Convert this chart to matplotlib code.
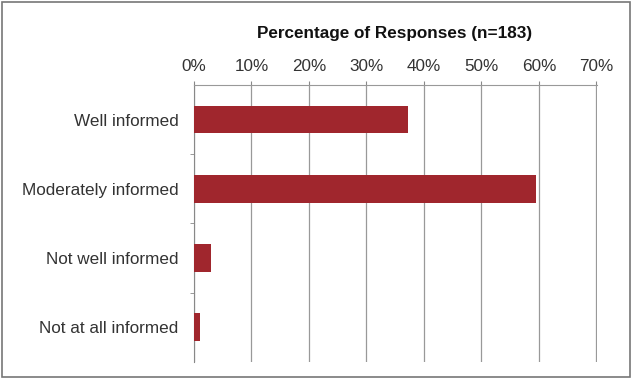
import matplotlib.pyplot as plt
from matplotlib.patches import Rectangle

# data
categories = ["Well informed", "Moderately informed", "Not well informed", "Not at all informed"]
percentages = [37.2, 59.5, 3.0, 1.0]
tick_values = [0, 10, 20, 30, 40, 50, 60, 70]

plt.rcParams['font.family'] = ['Liberation Sans', 'DejaVu Sans']

fig = plt.figure(figsize=(6.33, 3.81), dpi=100)
ax = fig.add_axes([0.3065, 0.05, 0.6365, 0.727])

y = list(range(len(categories)))
ax.barh(y, percentages, height=0.4, color="#a0262d", zorder=3)

ax.set_xlim(0, 70.1)
ax.set_ylim(len(categories) - 0.5, -0.5)
ax.set_yticks(y)
ax.set_yticklabels(categories, fontsize=12.3, color="#333333")
ax.set_yticks([0.5, 1.5, 2.5], minor=True)
ax.tick_params(axis="y", which="major", length=0, pad=11)
ax.tick_params(axis="y", which="minor", length=3, color="#888888")

ax.xaxis.tick_top()
ax.set_xticks(tick_values)
ax.set_xticklabels([f"{v}%" for v in tick_values], fontsize=12.3, color="#333333")
ax.tick_params(axis="x", length=3, color="#888888", pad=5)
ax.grid(axis="x", color="#999999", linewidth=0.9, zorder=0)

for side in ["right", "bottom"]:
    ax.spines[side].set_visible(False)
ax.spines["top"].set_color("#999999")
ax.spines["left"].set_color("#888888")

fig.text(0.624, 0.912, "Percentage of Responses (n=183)", ha="center", va="center",
         fontsize=12.3, fontweight="bold", color="#111111")

# frame around the figure
fig.patches.append(Rectangle((0.003, 0.01), 0.992, 0.985, transform=fig.transFigure,
                             fill=False, edgecolor="#777777", linewidth=1.2))

fig.savefig("out.png", dpi=100)
